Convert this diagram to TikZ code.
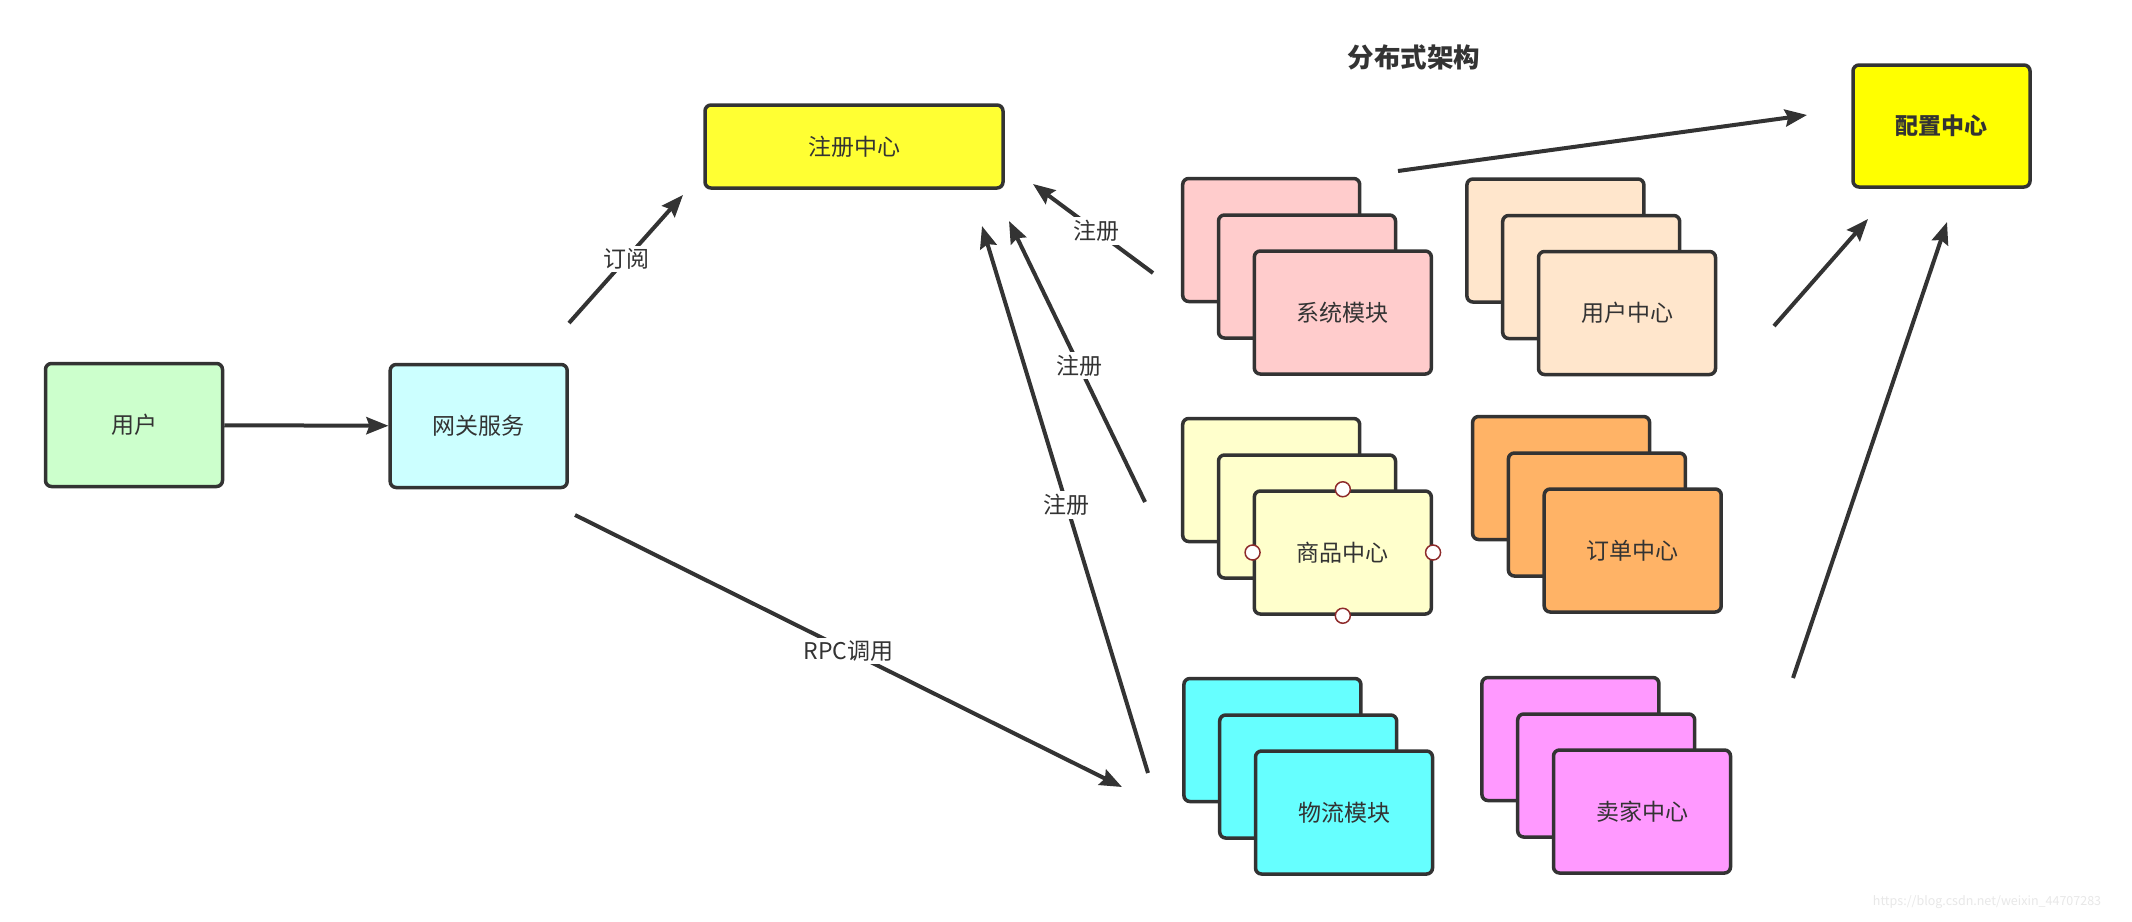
\documentclass[tikz,border=0pt]{standalone}
\usepackage{fontspec}
\setmainfont{Noto Sans CJK SC}
\usetikzlibrary{arrows.meta}
\definecolor{ink}{HTML}{333333}
\definecolor{cPink}{HTML}{FFCCCC}
\definecolor{cPeach}{HTML}{FFE6CC}
\definecolor{cLY}{HTML}{FFFFCC}
\definecolor{cOrange}{HTML}{FFB366}
\definecolor{cCyan}{HTML}{66FFFF}
\definecolor{cMag}{HTML}{FF99FF}
\definecolor{cGreen}{HTML}{CCFFCC}
\definecolor{cLC}{HTML}{CCFFFF}
\definecolor{cReg}{HTML}{FFFF33}
\definecolor{cCfg}{HTML}{FFFF00}
\definecolor{portred}{HTML}{8E2B2B}
\definecolor{wm}{HTML}{E8E8E8}
\tikzset{
  box/.style={draw=ink, line width=3.5pt, rounded corners=6pt, minimum width=177pt, minimum height=123pt, inner sep=0pt, text=ink, font=\fontsize{23}{27}\selectfont},
  conn/.style={draw=ink, line width=4pt, -{Stealth[length=22pt,width=17pt,inset=3pt]}},
  lbl/.style={fill=white, text=ink, inner sep=3pt, font=\fontsize{23}{27}\selectfont},
  port/.style={circle, draw=portred, fill=white, line width=1.5pt, minimum size=15pt, inner sep=0pt},
}
\newcommand\mystack[5]{%
  \node[box, fill=#4] (#1c) at (#2-71.6, #3-72.5) {};
  \node[box, fill=#4] (#1b) at (#2-35.8, #3-36) {};
  \node[box, fill=#4] (#1) at (#2, #3) {#5};
}
\begin{document}
\begin{tikzpicture}[x=1pt, y=-1pt]
\fill[white] (0,0) rectangle (2132,921);
\useasboundingbox (0,0) rectangle (2132,921);

% title
\node[text=ink, font=\fontsize{26.5}{30}\selectfont\bfseries] (title) at (1414,57) {分布式架构};

% main boxes
\node[box, fill=cGreen] (user) at (134,425) {用户};
\node[box, fill=cLC] (gw) at (478.7,426) {网关服务};
\node[box, fill=cReg, minimum width=298pt, minimum height=83pt] (reg) at (854,146.5) {注册中心};
\node[box, fill=cCfg, minimum width=177pt, minimum height=122pt, font=\fontsize{23}{27}\selectfont\bfseries] (cfg) at (1941.5,126) {配置中心};

% stacks
\mystack{sys}{1342.8}{312.5}{cPink}{系统模块}
\mystack{uc}{1627}{313}{cPeach}{用户中心}
\mystack{goods}{1342.8}{552.5}{cLY}{商品中心}
\mystack{order}{1632.7}{550.5}{cOrange}{订单中心}
\mystack{logi}{1344}{812.5}{cCyan}{物流模块}
\mystack{seller}{1642}{811.5}{cMag}{卖家中心}

% ports on 商品中心
\node[port] (pn) at (goods.north) {};
\node[port] (ps) at (goods.south) {};
\node[port] (pw) at (goods.west) {};
\node[port] (pe) at (goods.east) {};

% connector end points
\coordinate (dyS) at (569,323);   \coordinate (dyT) at (683,195);
\coordinate (r1S) at (1153,273);  \coordinate (r1T) at (1033,184);
\coordinate (r2S) at (1145,502);  \coordinate (r2T) at (1009,221);
\coordinate (r3S) at (1148,773);  \coordinate (r3T) at (982,226);
\coordinate (rpcS) at (575,515);  \coordinate (rpcT) at (1122,787);
\coordinate (c1S) at (1398,171);  \coordinate (c1T) at (1807,115);
\coordinate (c2S) at (1774,326);  \coordinate (c2T) at (1868,219);
\coordinate (c3S) at (1793,678);  \coordinate (c3T) at (1947,222);

% connectors
\draw[conn] (user) -- (gw);
\draw[conn] (dyS) -- (dyT) node[lbl, pos=0.5] (lDy) {订阅};
\draw[conn] (r1S) -- (r1T) node[lbl, pos=0.47] (lR1) {注册};
\draw[conn] (r2S) -- (r2T) node[lbl, pos=0.485] (lR2) {注册};
\draw[conn] (r3S) -- (r3T) node[lbl, pos=0.49] (lR3) {注册};
\draw[conn] (rpcS) -- (rpcT) node[lbl, pos=0.5] (lRpc) {RPC调用};
\draw[conn] (c1S) -- (c1T);
\draw[conn] (c2S) -- (c2T);
\draw[conn] (c3S) -- (c3T);

% watermark
\node[text=wm, font=\fontsize{12.5}{15}\selectfont] (wmk) at (1987,902) {https://blog.csdn.net/weixin\_44707283};
\end{tikzpicture}
\end{document}
